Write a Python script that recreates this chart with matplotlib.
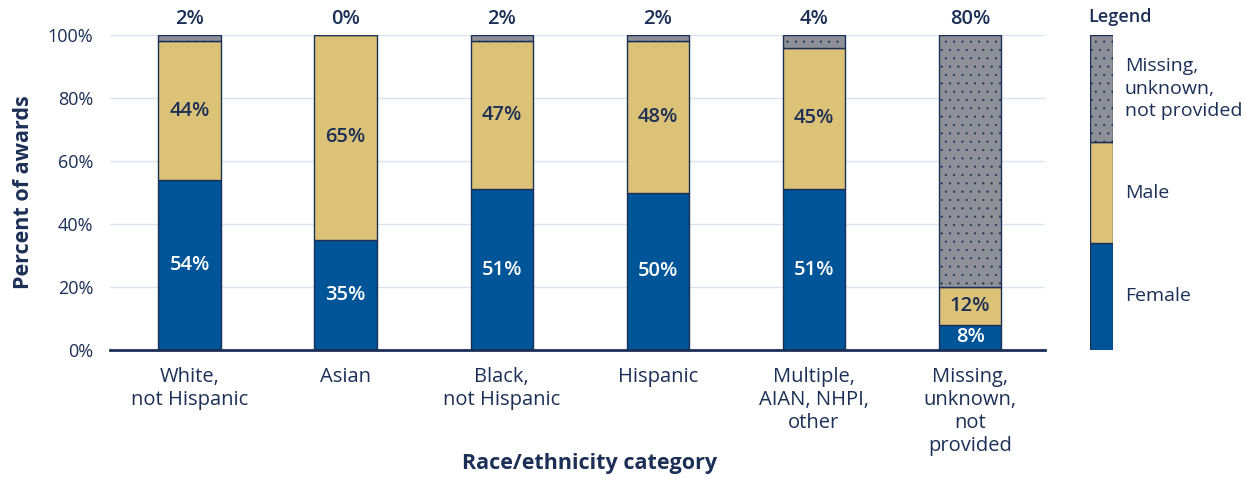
import numpy as np
import matplotlib.pyplot as plt
from matplotlib.ticker import PercentFormatter

plt.rcParams['font.family'] = ['Open Sans', 'DejaVu Sans']
plt.rcParams['hatch.linewidth'] = 0.3

categories = ["White,\nnot Hispanic", "Asian", "Black,\nnot Hispanic", "Hispanic",
              "Multiple,\nAIAN, NHPI,\nother", "Missing,\nunknown,\nnot\nprovided"]
female = [54, 35, 51, 50, 51, 8]
male = [44, 65, 47, 48, 45, 12]
missing = [2, 0, 2, 2, 4, 80]
legend_labels = ["Female", "Male", "Missing,\nunknown,\nnot provided"]

navy = '#1b2f57'
blue = '#005598'
gold = '#dbc277'
gray = '#8d9096'
grid = '#d9e4f1'

fig = plt.figure(figsize=(12.45, 4.78), dpi=100)
ax = fig.add_axes([110/1245, 1-350/478, 935/1245, 315/478])

x = np.arange(len(categories))
w = 0.4
f = np.array(female)
m = np.array(male)
u = np.array(missing)
ax.bar(x, f, w, color=blue, edgecolor=navy, linewidth=1, zorder=3)
ax.bar(x, m, w, bottom=f, color=gold, edgecolor=navy, linewidth=1, zorder=3)
ax.bar(x, u, w, bottom=f+m, color=gray, edgecolor=navy, linewidth=1, hatch='..', zorder=3)

for i in range(len(x)):
    ax.text(x[i], f[i]/2, f"{f[i]}%", ha='center', va='center', color='white',
            fontsize=14.5, fontweight='semibold', zorder=4)
    ax.text(x[i], f[i]+m[i]/2, f"{m[i]}%", ha='center', va='center', color=navy,
            fontsize=14.5, fontweight='semibold', zorder=4)
    ax.text(x[i], 102, f"{u[i]}%", ha='center', va='bottom', color=navy,
            fontsize=14.5, fontweight='semibold', clip_on=False)

ax.set_xlim(-0.51, 5.48)
ax.set_ylim(0, 100)
ax.set_yticks(range(0, 101, 20))
ax.yaxis.set_major_formatter(PercentFormatter(decimals=0))
ax.set_xticks(x)
ax.set_xticklabels(categories, fontsize=14.5, color=navy, linespacing=1.2, va='top')
ax.tick_params(axis='y', length=0, labelsize=13, labelcolor=navy, pad=12)
ax.tick_params(axis='x', length=0, pad=12)
ax.grid(axis='y', color=grid, linewidth=1, zorder=0)
for s in ['top', 'right', 'left']:
    ax.spines[s].set_visible(False)
ax.spines['bottom'].set_color(navy)
ax.spines['bottom'].set_linewidth(2)
ax.spines['bottom'].set_zorder(5)
ax.set_ylabel("Percent of awards", fontsize=15.5, fontweight='bold', color=navy, labelpad=10)
fig.text(590/1245, 1-463/478, "Race/ethnicity category", ha='center', va='center',
         fontsize=15.5, fontweight='bold', color=navy)

# legend drawn as a stacked bar
lax = fig.add_axes([1090/1245, 1-350/478, 23/1245, 315/478])
shares = [34, 32, 34]
cols = [blue, gold, gray]
hatches = [None, None, '..']
b = 0
for s, c, h, lab in zip(shares, cols, hatches, legend_labels):
    lax.bar(0, s, 1, bottom=b, color=c, edgecolor=navy, linewidth=1, hatch=h)
    lax.text(1.02, b + s/2, lab, ha='left', va='center', fontsize=14, color=navy,
             linespacing=1.3, clip_on=False)
    b += s
lax.set_xlim(-0.5, 0.5)
lax.set_ylim(0, 100)
lax.axis('off')
fig.text(1088/1245, 1-17/478, "Legend", ha='left', va='center', fontsize=13,
         fontweight='semibold', color=navy)

fig.savefig('out.png', dpi=100)
